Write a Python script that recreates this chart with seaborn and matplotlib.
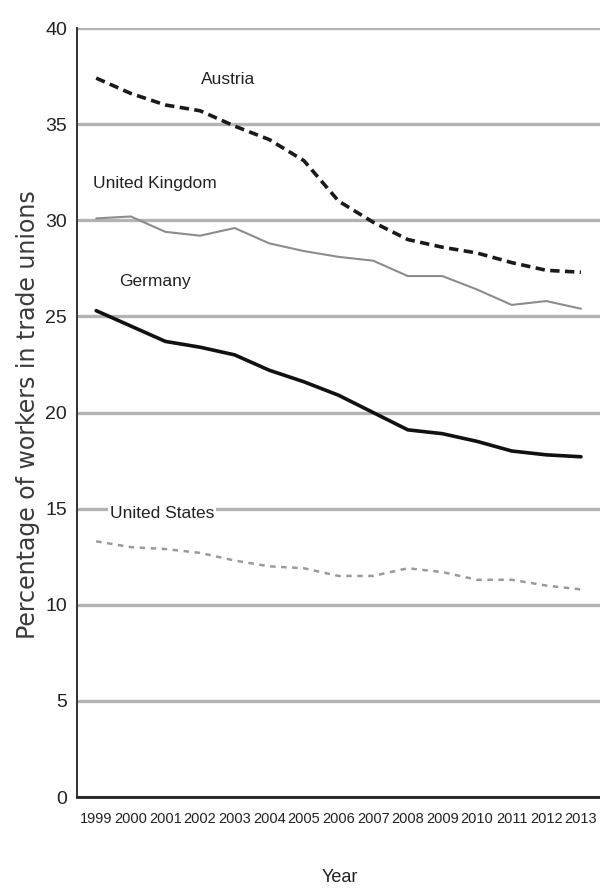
"""
Trade union density 1999-2013 for four countries, redrawn with seaborn.
"""

import pandas as pd
import seaborn as sns
import matplotlib.pyplot as plt

# values
years = list(range(1999, 2014))
austria = [37.4, 36.6, 36.0, 35.7, 34.9, 34.2, 33.1, 31.0, 29.9, 29.0, 28.6, 28.3, 27.8, 27.4, 27.3]
united_kingdom = [30.1, 30.2, 29.4, 29.2, 29.6, 28.8, 28.4, 28.1, 27.9, 27.1, 27.1, 26.4, 25.6, 25.8, 25.4]
germany = [25.3, 24.5, 23.7, 23.4, 23.0, 22.2, 21.6, 20.9, 20.0, 19.1, 18.9, 18.5, 18.0, 17.8, 17.7]
united_states = [13.3, 13.0, 12.9, 12.7, 12.3, 12.0, 11.9, 11.5, 11.5, 11.9, 11.7, 11.3, 11.3, 11.0, 10.8]

countries = ["Austria", "United Kingdom", "Germany", "United States"]
y_ticks = [0, 5, 10, 15, 20, 25, 30, 35, 40]


def main() -> None:
    sns.set_style("white")
    plt.rcParams["font.family"] = ["Liberation Sans", "DejaVu Sans"]

    df = pd.DataFrame(
        {
            "year": years * 4,
            "value": austria + united_kingdom + germany + united_states,
            "country": [c for c in countries for _ in years],
        }
    )

    palette = {
        "Austria": "#1a1a1a",
        "United Kingdom": "#8c8c8c",
        "Germany": "#111111",
        "United States": "#9a9a9a",
    }
    dashes = {
        "Austria": (2.6, 1.5),
        "United Kingdom": "",
        "Germany": "",
        "United States": (2.2, 2.2),
    }
    sizes = {
        "Austria": 2.6,
        "United Kingdom": 1.5,
        "Germany": 2.6,
        "United States": 1.8,
    }

    fig = plt.figure(figsize=(6, 8.92), dpi=100)
    ax = fig.add_axes([0.128, 0.1065, 0.872, 0.862])

    sns.lineplot(
        data=df, x="year", y="value",
        hue="country", style="country", size="country",
        palette=palette, dashes=dashes, sizes=sizes,
        hue_order=countries, style_order=countries, size_order=countries,
        legend=False, ax=ax,
    )

    ax.set_xlim(1998.44, 2013.55)
    ax.set_ylim(0, 40)
    ax.set_xticks(years)
    ax.set_xticklabels([str(y) for y in years])
    ax.set_yticks(y_ticks)

    ax.grid(axis="y", color="#b3b3b3", linewidth=2.4)
    ax.grid(axis="x", visible=False)
    ax.set_axisbelow(True)
    sns.despine(ax=ax, top=True, right=True)
    ax.spines["left"].set_color("#222222")
    ax.spines["left"].set_linewidth(1.3)
    ax.spines["bottom"].set_color("#222222")
    ax.spines["bottom"].set_linewidth(2.0)

    ax.tick_params(axis="y", length=4, width=1.2, pad=3, labelsize=14, colors="#222222")
    ax.tick_params(axis="x", length=0, pad=11, labelsize=10.5, colors="#222222")

    ax.set_xlabel("Year", fontsize=13, color="#222222")
    ax.xaxis.set_label_coords(0.503, -0.093)
    ax.set_ylabel(
        "Percentage of workers in trade unions",
        fontsize=17, color="#3a3a3a", family=["DejaVu Sans"],
    )
    ax.yaxis.set_label_coords(-0.07, 0.497)

    label_style = dict(fontsize=12.5, color="#222222", ha="center", va="center")
    ax.text(2002.8, 37.3, "Austria", **label_style)
    ax.text(2000.69, 31.9, "United Kingdom", **label_style)
    ax.text(2000.69, 26.8, "Germany", **label_style)
    ax.text(
        2000.9, 14.75, "United States",
        bbox=dict(facecolor="white", edgecolor="none", pad=1.5),
        **label_style,
    )

    plt.savefig("out.png", dpi=100)


if __name__ == "__main__":
    main()
